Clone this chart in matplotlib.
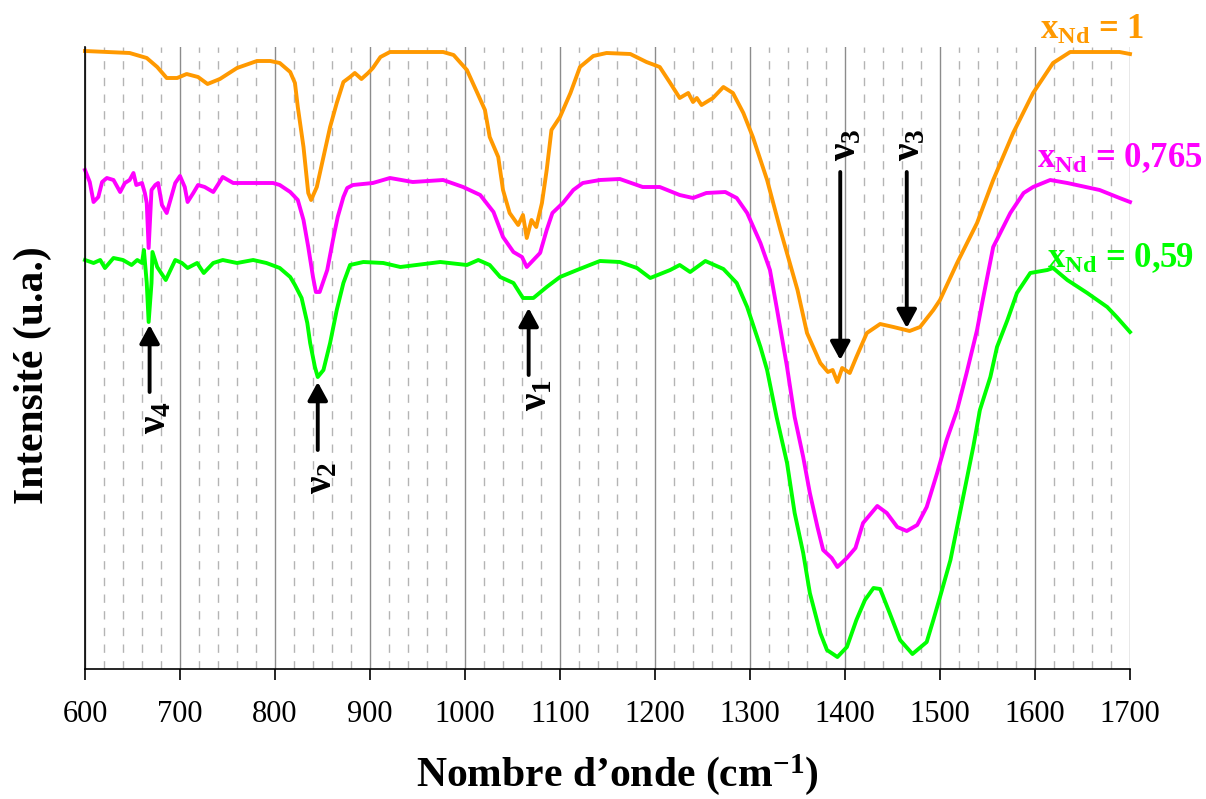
import matplotlib
matplotlib.use('Agg')
import matplotlib.pyplot as plt

plt.rcParams['font.family'] = ['Liberation Serif', 'DejaVu Serif']
plt.rcParams['mathtext.fontset'] = 'custom'
plt.rcParams['mathtext.rm'] = 'Liberation Serif'
plt.rcParams['mathtext.bf'] = 'Liberation Serif:bold'
plt.rcParams['mathtext.it'] = 'Liberation Serif:italic'
plt.rcParams['mathtext.default'] = 'bf'

# ---------------- data (wavenumber cm-1, intensity a.u.) ----------------
wn_1 = [600, 647, 665, 676, 686, 697, 707, 719, 729, 742,
        760, 781, 795, 805, 816, 821, 824, 830, 835, 838,
        844, 851, 858, 865, 872, 879, 884, 891, 898, 903,
        911, 921, 977, 988, 1002, 1013, 1021, 1026, 1035, 1040,
        1047, 1056, 1061, 1065, 1070, 1075, 1081, 1086, 1091, 1100,
        1111, 1121, 1135, 1149, 1174, 1191, 1205, 1216, 1226, 1235,
        1240, 1244, 1249, 1261, 1272, 1282, 1293, 1303, 1318, 1332,
        1350, 1360, 1374, 1382, 1387, 1392, 1397, 1405, 1412, 1423,
        1437, 1451, 1468, 1479, 1493, 1500, 1518, 1539, 1556, 1577,
        1598, 1619, 1637, 1689, 1700]
int_1 = [618, 616, 611, 602, 591, 591, 595, 592, 585, 590,
         601, 608, 608, 606, 597, 586, 562, 522, 476, 469,
         482, 512, 542, 566, 587, 592, 596, 590, 596, 601,
         612, 617, 617, 614, 599, 576, 559, 532, 512, 479,
         456, 444, 454, 431, 449, 442, 466, 499, 539, 552,
         576, 602, 613, 616, 615, 607, 602, 586, 571, 576,
         567, 571, 564, 571, 582, 576, 556, 532, 489, 439,
         379, 336, 306, 297, 299, 287, 301, 296, 312, 336,
         345, 342, 338, 342, 359, 369, 406, 446, 489, 536,
         576, 606, 617, 617, 615]

wn_0765 = [600, 605, 609, 614, 618, 623, 630, 637, 642, 647,
           651, 654, 660, 663, 665, 667, 670, 674, 677, 681,
           686, 689, 695, 700, 705, 708, 714, 719, 726, 735,
           745, 756, 777, 798, 805, 816, 824, 830, 835, 840,
           843, 847, 855, 861, 866, 872, 876, 882, 903, 921,
           945, 977, 998, 1016, 1030, 1040, 1051, 1060, 1065, 1072,
           1079, 1086, 1092, 1103, 1114, 1124, 1142, 1163, 1187, 1205,
           1226, 1240, 1254, 1274, 1286, 1297, 1311, 1321, 1328, 1339,
           1347, 1356, 1363, 1371, 1377, 1386, 1392, 1402, 1411, 1419,
           1434, 1444, 1455, 1465, 1476, 1486, 1497, 1507, 1518, 1528,
           1539, 1545, 1556, 1574, 1588, 1598, 1616, 1634, 1668, 1689,
           1700]
int_0765 = [499, 487, 467, 472, 487, 491, 489, 477, 486, 489,
            496, 484, 486, 476, 466, 421, 479, 484, 486, 464,
            456, 466, 486, 493, 482, 467, 476, 484, 482, 477,
            492, 486, 486, 486, 484, 477, 469, 449, 422, 392,
            377, 377, 399, 429, 452, 472, 481, 484, 486, 491,
            487, 489, 482, 474, 457, 432, 417, 412, 402, 409,
            416, 439, 456, 466, 479, 486, 489, 490, 482, 482,
            474, 471, 476, 477, 471, 456, 426, 399, 362, 302,
            252, 212, 176, 142, 119, 111, 102, 111, 121, 146,
            163, 156, 142, 138, 144, 162, 196, 229, 259, 296,
            339, 369, 422, 456, 476, 482, 489, 486, 479, 471,
            467]

wn_059 = [600, 609, 616, 621, 630, 640, 649, 655, 660, 662,
          665, 667, 670, 671, 676, 685, 695, 702, 708, 718,
          725, 735, 745, 760, 777, 791, 805, 816, 821, 828,
          834, 837, 842, 845, 851, 858, 865, 872, 879, 893,
          914, 932, 974, 1002, 1014, 1026, 1037, 1051, 1061, 1072,
          1086, 1100, 1118, 1142, 1163, 1181, 1195, 1216, 1226, 1237,
          1253, 1272, 1286, 1297, 1311, 1318, 1328, 1339, 1347, 1356,
          1363, 1374, 1381, 1392, 1402, 1412, 1421, 1430, 1437, 1447,
          1458, 1471, 1486, 1493, 1500, 1511, 1518, 1528, 1535, 1542,
          1553, 1560, 1571, 1581, 1595, 1613, 1619, 1634, 1655, 1676,
          1686, 1700]
int_059 = [409, 406, 409, 401, 411, 409, 404, 409, 406, 419,
           386, 347, 386, 417, 402, 389, 409, 406, 401, 406,
           396, 406, 409, 406, 409, 406, 401, 392, 384, 371,
           346, 326, 302, 292, 299, 326, 359, 386, 404, 407,
           406, 402, 407, 404, 409, 404, 392, 386, 371, 371,
           382, 392, 399, 408, 407, 401, 391, 399, 404, 397,
           408, 400, 386, 362, 322, 299, 252, 206, 156, 116,
           76, 36, 19, 12, 22, 49, 69, 81, 80, 56,
           29, 15, 27, 49, 72, 109, 142, 189, 222, 259,
           292, 322, 349, 376, 396, 399, 401, 389, 376, 362,
           352, 337]

major_ticks = list(range(600, 1701, 100))
minor_ticks = [v for v in range(600, 1701, 20) if v % 100 != 0]

series_labels = [r'x$_{Nd}$ = 1', r'x$_{Nd}$ = 0,765', r'x$_{Nd}$ = 0,59']
series_colors = ['#FF9900', '#FF00FF', '#00FF00']

# ---------------- figure ----------------
fig = plt.figure(figsize=(12.06, 7.99), dpi=100)
ax = fig.add_axes([85/1206, 1 - 669/799, (1130 - 85)/1206, (669 - 47)/799])

ax.set_xlim(600, 1700)
ax.set_ylim(0, 622)
ax.set_xticks(major_ticks)
ax.set_xticks(minor_ticks, minor=True)
ax.set_yticks([])
ax.set_axisbelow(True)
ax.grid(which='major', axis='x', color='#8c8c8c', lw=1.0, ls='-')
ax.grid(which='minor', axis='x', color='#b4b4b4', lw=1.0, ls=(0, (6, 6)))
ax.tick_params(axis='x', which='major', direction='out', length=8, width=1.2,
               labelsize=22, pad=14)
ax.tick_params(axis='x', which='minor', length=0)
for s in ['top', 'right']:
    ax.spines[s].set_visible(False)
for s in ['left', 'bottom']:
    ax.spines[s].set_linewidth(1.2)
    ax.spines[s].set_color('black')

for wn, it, c in zip([wn_1, wn_0765, wn_059], [int_1, int_0765, int_059], series_colors):
    ax.plot(wn, it, color=c, lw=2.8, solid_joinstyle='round', clip_on=False)

# series labels
label_pos = [(1605, 639), (1602, 511), (1613, 411)]
for lab, (x, y), c in zip(series_labels, label_pos, series_colors):
    ax.text(x, y, lab, color=c, fontsize=25, fontweight='bold',
            ha='left', va='center', clip_on=False)

# band arrows
arrow_kw = dict(arrowstyle='-|>,head_length=0.55,head_width=0.3', color='black',
                lw=2.8, mutation_scale=20, shrinkA=0, shrinkB=0)
arrows = [((668, 344), (668, 277)),
          ((845, 287), (845, 219)),
          ((1067, 361), (1067, 294)),
          ((1395, 309), (1395, 497)),
          ((1465, 341), (1465, 497))]
for head, tail in arrows:
    ax.annotate('', xy=head, xytext=tail, arrowprops=arrow_kw)

band_labels = [(675, 251, r'ν$_4$'), (849, 191, r'ν$_2$'), (1076, 274, r'ν$_1$'),
               (1401, 524, r'ν$_3$'), (1468, 524, r'ν$_3$')]
for x, y, t in band_labels:
    ax.text(x, y, t, rotation=90, fontsize=28, fontweight='bold',
            ha='center', va='center')

fig.text(617/1206, 1 - 775/799, 'Nombre d’onde (cm$^{-1}$)', fontsize=30,
         fontweight='bold', ha='center', va='center')
fig.text(33/1206, 1 - 375/799, 'Intensité (u.a.)', fontsize=30,
         fontweight='bold', ha='center', va='center', rotation=90)

fig.savefig('out.png', dpi=100)
